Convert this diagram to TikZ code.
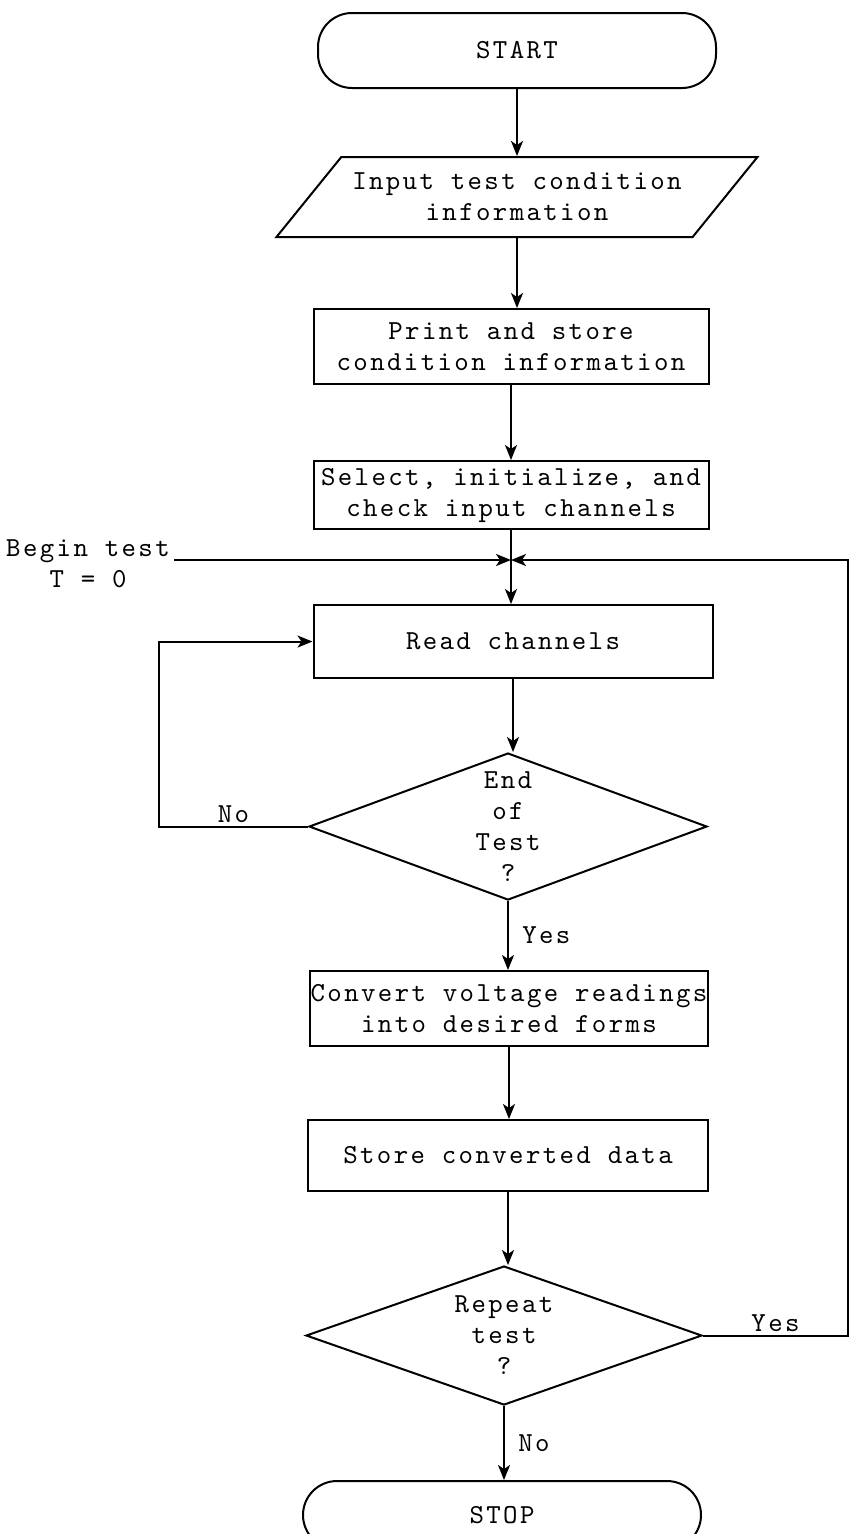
\documentclass[tikz,border=0pt]{standalone}
\usepackage{fontspec}
\setmonofont{lmmono10-regular.otf}[LetterSpace=8.7]
\usetikzlibrary{positioning,shapes.geometric,arrows.meta,calc}

\begin{document}
\begin{tikzpicture}[x=1pt,y=-1pt,line width=2pt,
        >={Stealth[length=15pt,width=12pt,inset=4pt]},
        every node/.style={font=\ttfamily\fontsize{27.5}{31}\selectfont},
        term/.style={draw,rectangle,rounded corners=34pt,minimum width=398pt,minimum height=75pt,inner sep=0pt},
        io/.style={draw,trapezium,trapezium left angle=36.5,trapezium right angle=143.5,
            trapezium stretches body=true,minimum width=481pt,minimum height=80pt,inner sep=0pt,align=center},
        box/.style={draw,rectangle,minimum width=396pt,minimum height=74pt,inner sep=0pt,align=center},
        decision/.style={draw,diamond,inner sep=0pt,align=center}]

        \useasboundingbox (0,0) rectangle (851,1534);

        % Define nodes
        \node[term] (start) at (517,50.5) {START};
        \node[io] (input) [below=67pt of start] {Input test condition\\information};
        \node[box, minimum width=395pt, minimum height=75pt] (print) [below=70pt of input, xshift=-6pt] {Print and store\\condition information};
        \node[box, minimum width=395pt, minimum height=68pt] (select) [below=75pt of print] {Select, initialize, and\\check input channels};
        \node[box, minimum width=399pt, minimum height=73pt] (read) [below=74pt of select, xshift=2pt] {Read channels};
        \node[decision, aspect=2.7, minimum width=398pt, minimum height=147pt] (endtest) [below=73pt of read, xshift=-5pt] {End\\of\\Test\\?};
        \node[box, minimum width=398pt, minimum height=75pt] (convert) [below=69pt of endtest, xshift=1pt] {Convert voltage readings\\into desired forms};
        \node[box, minimum width=400pt, minimum height=71pt] (store) [below=72pt of convert, xshift=-1pt] {Store converted data};
        \node[decision, aspect=2.85, minimum width=396pt, minimum height=139pt] (repeat) [below=73pt of store, xshift=-4pt] {Repeat\\test\\?};
        \node[term, minimum height=68pt] (stop) [below=74pt of repeat, xshift=-2pt] {STOP};
        \node[align=center] (begin) at (88,564) {Begin test\\T = 0};

        % Junction and return corner
        \coordinate (rt) at (848,560);
        \coordinate (jn) at (select.south |- rt);

        % Draw edges
        \path[->]
            (start.south) edge (start.south |- input.north)
            (input.south) edge (input.south |- print.north)
            (print.south) edge (print.south |- select.north)
            (read.south) edge (read.south |- endtest.north)
            (endtest.south) edge node[right,xshift=10pt] {Yes} (endtest.south |- convert.north)
            (convert.south) edge (convert.south |- store.north)
            (store.south) edge (store.south |- repeat.north)
            (repeat.south) edge node[right,xshift=10pt] {No} (repeat.south |- stop.north);

        \draw (select) -- (jn);
        \draw[->] (jn) -- (jn |- read.north);
        \draw[->] (begin.east |- jn) -- (jn);
        \draw[->] (repeat.east) -- node[above] {Yes} (repeat.east -| rt) -- (rt) -- (jn);
        \draw[->] (endtest.west) -- node[above] {No} ++(-149pt,0pt) |- (read.west);

\end{tikzpicture}
\end{document}
